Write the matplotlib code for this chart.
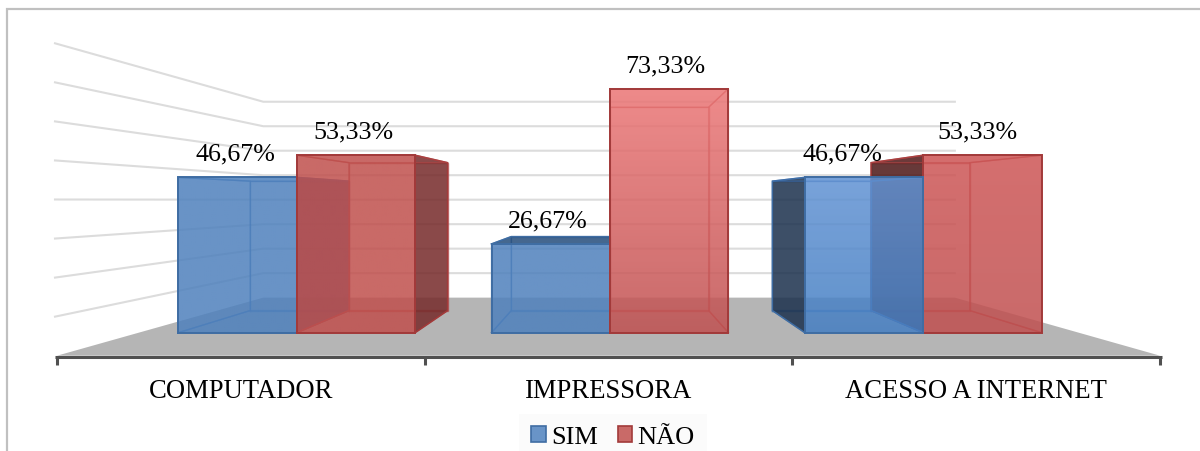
import numpy as np
import matplotlib
matplotlib.use("Agg")
import matplotlib.pyplot as plt
from matplotlib.colors import to_rgb
from matplotlib.patches import Polygon, Patch

plt.rcParams['font.family'] = ['Liberation Serif', 'DejaVu Serif']

categories = ["COMPUTADOR", "IMPRESSORA", "ACESSO A INTERNET"]
series_names = ["SIM", "NÃO"]
sim_values = [46.67, 26.67, 46.67]
nao_values = [53.33, 73.33, 53.33]
grid_values = [10, 20, 30, 40, 50, 60, 70, 80]

# Perspective model: screen position of a point at a given depth scale
VP_X, VP_Y = 610.0, 201.0
X0, CAT_W = 57.0, 367.67
FLOOR_Y, UNIT = 356.7, 3.905
S_FLOOR_FRONT, S_BAR_FRONT, S_BAR_BACK, S_WALL = 1.0, 0.852, 0.71, 0.627
BAR_GAP, BAR_W = 0.126, 0.378
ALPHA = 0.85


def project(t, v, s):
    return (VP_X + s * (X0 + t * CAT_W - VP_X),
            VP_Y + s * (FLOOR_Y - v * UNIT - VP_Y))


fig = plt.figure(figsize=(12, 4.52), dpi=100)
ax = fig.add_axes([0, 0, 1, 1])
ax.set_axis_off()

z = [10]


def next_z():
    z[0] += 1
    return z[0]


def face(pts, color, alpha, edge=None, lw=1.1, edge_alpha=1.0):
    ax.add_patch(Polygon(pts, closed=True, facecolor=color, alpha=alpha,
                         edgecolor='none', zorder=next_z()))
    if edge is not None:
        xs, ys = zip(*(list(pts) + [pts[0]]))
        ax.plot(xs, ys, color=edge, lw=lw, alpha=edge_alpha,
                solid_joinstyle='miter', zorder=next_z())


def gradient_face(pts, top, bottom, edge):
    xs, ys = zip(*pts)
    ramp = np.linspace(0, 1, 128)[:, None]
    t, b = np.array(to_rgb(top)), np.array(to_rgb(bottom))
    rgb = t + (b - t) * ramp[..., None]
    rgba = np.dstack([rgb, np.full((128, 1), ALPHA)])
    im = ax.imshow(rgba, extent=(min(xs), max(xs), max(ys), min(ys)),
                   aspect='auto', interpolation='bilinear', zorder=next_z())
    im.set_clip_path(Polygon(pts, closed=True, transform=ax.transData))
    xc, yc = zip(*(list(pts) + [pts[0]]))
    ax.plot(xc, yc, color=edge, lw=1.4, solid_joinstyle='miter', zorder=next_z())


BLUE_STYLE = dict(edge="#3f6da3", inner="#3f70ad", dark_left="#1c314d",
                  dark_right="#2f5080", top="#264e7c")
RED_STYLE = dict(edge="#a23a3a", inner="#b04444", dark_left="#4d1717",
                 dark_right="#762b2b", top="#7a2a2a")
# Front-face shading per category (top colour, bottom colour)
BLUE_FRONT = [("#4f81bd", "#4f81bd"), ("#4f81bd", "#4f81bd"), ("#6293d4", "#457fc3")]
RED_FRONT = [("#c0504d", "#c0504d"), ("#ec7777", "#c05151"), ("#ce5656", "#c05050")]


def draw_bar(t0, value, style, front):
    t1 = t0 + BAR_W
    f = [project(t0, 0, S_BAR_FRONT), project(t1, 0, S_BAR_FRONT),
         project(t1, value, S_BAR_FRONT), project(t0, value, S_BAR_FRONT)]
    b = [project(t0, 0, S_BAR_BACK), project(t1, 0, S_BAR_BACK),
         project(t1, value, S_BAR_BACK), project(t0, value, S_BAR_BACK)]
    inner = dict(edge=style['inner'], lw=1.0, edge_alpha=0.65)
    face(b, style['inner'], 0.04, **inner)
    face([f[0], f[1], b[1], b[0]], style['inner'], 0.05, **inner)

    # Side and top faces turn dark only when they face the viewer
    left = [f[0], f[3], b[3], b[0]]
    right = [f[1], f[2], b[2], b[1]]
    top = [f[3], f[2], b[2], b[3]]
    if b[0][0] < f[0][0] - 1:
        face(left, style['dark_left'], ALPHA, edge=style['edge'])
    else:
        face(left, style['inner'], 0.03, **inner)
    if b[1][0] > f[1][0] + 1:
        face(right, style['dark_right'], ALPHA, edge=style['edge'])
    else:
        face(right, style['inner'], 0.03, **inner)
    if f[3][1] > b[3][1] + 1:
        face(top, style['top'], ALPHA, edge=style['edge'])
    else:
        face(top, style['inner'], 0.06, **inner)
    gradient_face(f, front[0], front[1], style['edge'])


# Floor
floor = [project(0, 0, S_FLOOR_FRONT), project(3, 0, S_FLOOR_FRONT),
         project(3, 0, S_WALL), project(0, 0, S_WALL)]
ax.add_patch(Polygon(floor, closed=True, facecolor="#b5b5b5", edgecolor='none', zorder=2))

# Back and side wall gridlines
for gv in grid_values:
    p0 = project(0, gv, S_FLOOR_FRONT)
    p1 = project(0, gv, S_WALL)
    p2 = project(3, gv, S_WALL)
    ax.plot([p0[0] - 2, p1[0], p2[0]], [p0[1], p1[1], p2[1]],
            color="#dcdcdc", lw=1.5, zorder=3)

# Bars: within a group, the one farther from the vanishing point goes first
bars = []
for i in range(len(categories)):
    bars.append((i + BAR_GAP, sim_values[i], BLUE_STYLE, BLUE_FRONT[i]))
    bars.append((i + BAR_GAP + BAR_W, nao_values[i], RED_STYLE, RED_FRONT[i]))
for i in range(len(categories)):
    pair = [b for b in bars if i <= b[0] < i + 1]
    pair.sort(key=lambda r: -abs(project(r[0] + BAR_W / 2, 0, 1)[0] - VP_X))
    for t0, value, style, front in pair:
        draw_bar(t0, value, style, front)

# Value labels above each front face
LABEL_NUDGE = [-2, -2, -3, -4, -22, -5]
for k, (t0, value, _, _) in enumerate(bars):
    x, y = project(t0 + BAR_W / 2, value, S_BAR_FRONT)
    ax.text(x + LABEL_NUDGE[k], y - 23.5, f"{value:.2f}%".replace(".", ","),
            ha='center', va='center', fontsize=18.7, color='black', zorder=500)

# Category axis with ticks between the groups
a0, a1 = project(0, 0, 1), project(3, 0, 1)
ax.plot([a0[0] - 2, a1[0] + 2], [a0[1] + 1.5, a1[1] + 1.5], color="#505050", lw=2.2,
        solid_capstyle='butt', zorder=400)
for i in range(len(categories) + 1):
    tx, ty = project(i, 0, 1)
    ax.plot([tx, tx], [ty + 1.5, ty + 9.5], color="#505050", lw=2.2,
            solid_capstyle='butt', zorder=400)
for i, name in enumerate(categories):
    tx, _ = project(i + 0.5, 0, 1)
    ax.text(tx, 392, name, ha='center', va='center', fontsize=19.2, color='black')

# Legend
handles = [Patch(facecolor="#6994c7", edgecolor=BLUE_STYLE['edge'], lw=1.2),
           Patch(facecolor="#c96a68", edgecolor=RED_STYLE['edge'], lw=1.2)]
leg = ax.legend(handles, series_names, ncol=2, loc='center',
                bbox_to_anchor=(613, 438), bbox_transform=ax.transData,
                fontsize=19, frameon=True, facecolor="#fbfbfb", edgecolor='none',
                framealpha=1, fancybox=False, handlelength=0.55, handleheight=0.55,
                handletextpad=0.2, columnspacing=0.75, borderpad=0.45, labelspacing=0)
leg.set_zorder(450)

# Chart frame, left and top edges
ax.plot([7, 7, 1200], [452, 10, 10], color="#c0c0c0", lw=1.6, zorder=1,
        solid_joinstyle='miter')

ax.set_xlim(0, 1200)
ax.set_ylim(452, 0)
fig.savefig("out.png", dpi=100, facecolor='white')
